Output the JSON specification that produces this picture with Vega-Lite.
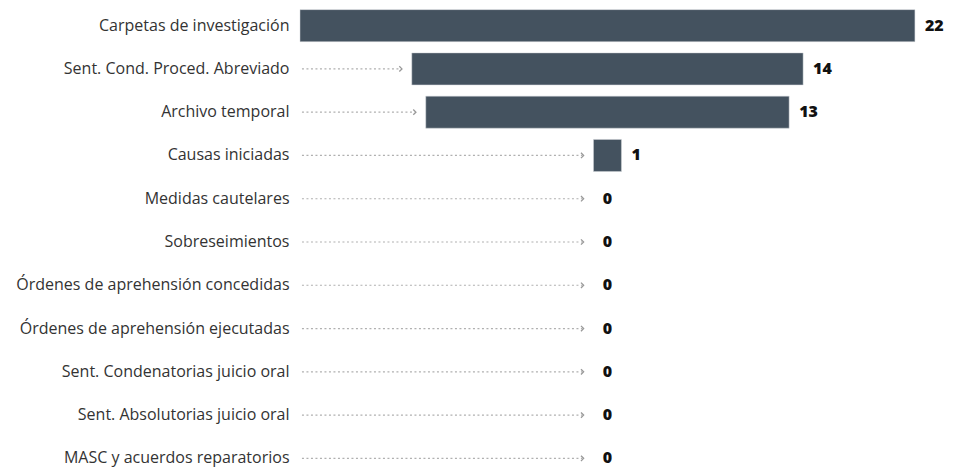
{
  "$schema": "https://vega.github.io/schema/vega-lite/v6.json",
  "width": 656,
  "height": 465,
  "autosize": {"type": "none"},
  "padding": {"left": 300, "top": 4, "right": 0, "bottom": 0},
  "background": "white",
  "config": {"view": {"stroke": null}},
  "data": {
    "values": [
      {"etapa": "Carpetas de investigación", "valor": 22},
      {"etapa": "Sent. Cond. Proced. Abreviado", "valor": 14},
      {"etapa": "Archivo temporal", "valor": 13},
      {"etapa": "Causas iniciadas", "valor": 1},
      {"etapa": "Medidas cautelares", "valor": 0},
      {"etapa": "Sobreseimientos", "valor": 0},
      {"etapa": "Órdenes de aprehensión concedidas", "valor": 0},
      {"etapa": "Órdenes de aprehensión ejecutadas", "valor": 0},
      {"etapa": "Sent. Condenatorias juicio oral", "valor": 0},
      {"etapa": "Sent. Absolutorias juicio oral", "valor": 0},
      {"etapa": "MASC y acuerdos reparatorios", "valor": 0}
    ]
  },
  "transform": [
    {"calculate": "-datum.valor/2", "as": "x0"},
    {"calculate": "datum.valor/2", "as": "x1"},
    {"calculate": "-max(datum.valor, 1)/2 - 0.4", "as": "ae"},
    {"calculate": "-10.93", "as": "as"}
  ],
  "encoding": {
    "y": {
      "field": "etapa",
      "type": "nominal",
      "sort": [
        "Carpetas de investigación",
        "Sent. Cond. Proced. Abreviado",
        "Archivo temporal",
        "Causas iniciadas",
        "Medidas cautelares",
        "Sobreseimientos",
        "Órdenes de aprehensión concedidas",
        "Órdenes de aprehensión ejecutadas",
        "Sent. Condenatorias juicio oral",
        "Sent. Absolutorias juicio oral",
        "MASC y acuerdos reparatorios"
      ],
      "scale": {"range": [0, 476], "paddingInner": 0.26, "paddingOuter": 0.13},
      "axis": {
        "title": null,
        "domain": false,
        "ticks": false,
        "labelPadding": 11,
        "labelFont": "Open Sans",
        "labelFontSize": 16,
        "labelColor": "#333333",
        "labelLimit": 400
      }
    }
  },
  "layer": [
    {
      "transform": [{"filter": "datum.ae > -10.5"}],
      "mark": {"type": "rule", "color": "#b0b0b0", "strokeWidth": 1.2, "strokeDash": [2, 2.5]},
      "encoding": {
        "x": {"field": "as", "type": "quantitative", "scale": {"domain": [-11, 12.47], "nice": false, "zero": false}, "axis": null},
        "x2": {"field": "ae"}
      }
    },
    {
      "transform": [{"filter": "datum.ae > -10.5"}],
      "mark": {"type": "point", "shape": "M-0.5,-1L0.5,0L-0.5,1", "filled": false, "stroke": "#999999", "strokeWidth": 1.3, "size": 28, "opacity": 1},
      "encoding": {
        "x": {"field": "ae", "type": "quantitative"}
      }
    },
    {
      "transform": [{"filter": "datum.valor > 0"}],
      "mark": {"type": "bar", "color": "#44525f", "stroke": "#d0d4d8", "strokeWidth": 0.5},
      "encoding": {
        "x": {"field": "x0", "type": "quantitative"},
        "x2": {"field": "x1"}
      }
    },
    {
      "transform": [{"filter": "datum.valor > 0"}],
      "mark": {"type": "text", "align": "left", "dx": 10, "font": "Open Sans", "fontSize": 16, "fontWeight": 800, "color": "#111111"},
      "encoding": {
        "x": {"field": "x1", "type": "quantitative"},
        "text": {"field": "valor", "type": "quantitative"}
      }
    },
    {
      "transform": [{"filter": "datum.valor == 0"}],
      "mark": {"type": "text", "align": "center", "font": "Open Sans", "fontSize": 16, "fontWeight": 800, "color": "#111111"},
      "encoding": {
        "x": {"field": "x1", "type": "quantitative"},
        "text": {"field": "valor", "type": "quantitative"}
      }
    }
  ]
}
